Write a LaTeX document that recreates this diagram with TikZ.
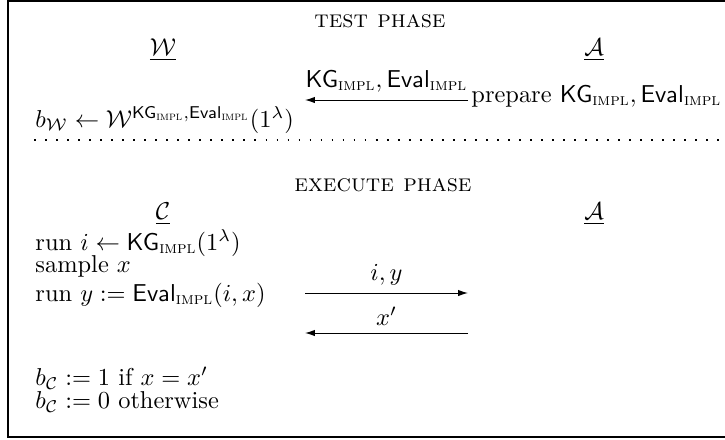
\documentclass[tikz,border=0pt]{standalone}
\usepackage{amsmath}
\usetikzlibrary{arrows.meta}
\newcommand{\implsub}{\text{\textsc{impl}}}
\newcommand{\KGi}{\mathsf{KG}_{\implsub}}
\newcommand{\Evali}{\mathsf{Eval}_{\implsub}}
\begin{document}
\begin{tikzpicture}[x=0.508pt,y=-0.508pt,
  every node/.style={scale=1.24},
  txt/.style={inner sep=0pt,anchor=west},
  ctr/.style={inner sep=0pt},
  msg/.style={-{Latex[length=5pt,width=3.2pt]},line width=0.5pt},
  lbl/.style={inner sep=0pt,above=3pt}]
\useasboundingbox (0,0) rectangle (725,439);
\draw[line width=0.8pt] (760,1) -- (8,1) -- (8,437) -- (760,437);
% test phase
\node[ctr] (tp) at (380,21) {\textsc{test phase}};
\node[ctr] (W) at (163,50) {$\underline{\mathcal{W}}$};
\node[ctr] (A1) at (594,50) {$\underline{\mathcal{A}}$};
\node[txt] (prep) at (471,96) {prepare $\KGi,\Evali$};
\coordinate (t1) at (468,100);
\coordinate (t0) at (305,100);
\draw[msg] (t1) -- (t0) node[midway,lbl] {$\KGi,\Evali$};
\node[txt] (bW) at (35,120) {$b_{\mathcal{W}} \gets \mathcal{W}^{\KGi,\Evali}(1^\lambda)$};
% separator
\coordinate (d0) at (34,140);
\coordinate (d1) at (725,140);
\draw[line width=0.9pt,dash pattern=on 0.9pt off 4.7pt] (d0) -- (d1);
% execute phase
\node[ctr] (ep) at (383,185) {\textsc{execute phase}};
\node[ctr] (C) at (163,214) {$\underline{\mathcal{C}}$};
\node[ctr] (A2) at (594,214) {$\underline{\mathcal{A}}$};
\node[txt] (r1) at (35,243) {run $i \gets \KGi(1^\lambda)$};
\node[txt] (r2) at (35,266) {sample $x$};
\node[txt] (r3) at (35,295) {run $y := \Evali(i,x)$};
\coordinate (m0) at (305,293);
\coordinate (m1) at (468,293);
\draw[msg] (m0) -- (m1) node[midway,lbl] {$i,y$};
\coordinate (n0) at (305,333);
\coordinate (n1) at (468,333);
\draw[msg] (n1) -- (n0) node[midway,lbl] {$x'$};
\node[txt] (r4) at (35,378) {$b_{\mathcal{C}} := 1$ if $x = x'$};
\node[txt] (r5) at (35,402) {$b_{\mathcal{C}} := 0$ otherwise};
\end{tikzpicture}
\end{document}
